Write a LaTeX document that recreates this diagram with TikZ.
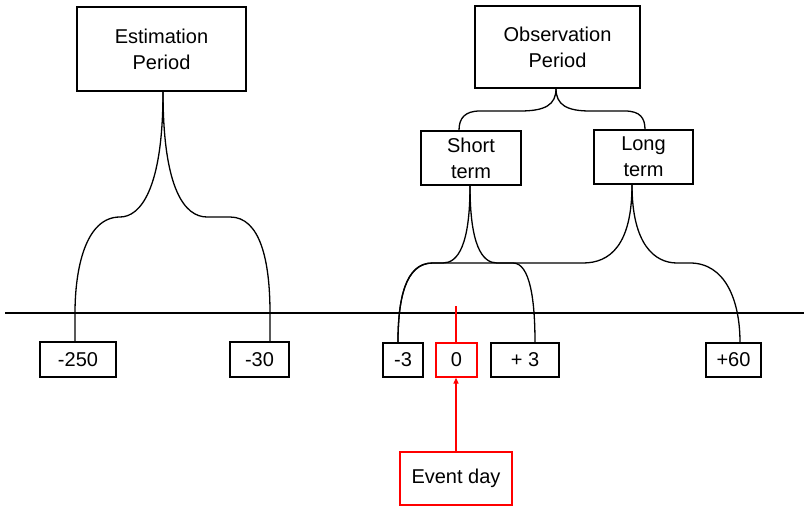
\documentclass[tikz,border=0pt]{standalone}
\usepackage{fontspec}
\setmainfont{Liberation Sans}
\usetikzlibrary{arrows.meta}
\begin{document}
\begin{tikzpicture}[x=1pt,y=-1pt,
  box/.style={draw=black,line width=1.3pt,align=center,inner sep=0pt,font=\fontsize{20}{26}\selectfont},
  redbox/.style={box,draw=red},
  link/.style={draw=black,line width=1.3pt},
  redlink/.style={draw=red,line width=1.3pt}]
\useasboundingbox (0,0) rectangle (804,508);
\draw[line width=1.3pt] (5,313) -- (804,313);
\node[box,minimum width=169pt,minimum height=84pt] (est) at (161.5,49) {Estimation\\Period};
\node[box,minimum width=165pt,minimum height=82pt] (obs) at (557.5,47) {Observation\\Period};
\node[box,minimum width=100pt,minimum height=54pt] (short) at (471,158) {Short\\term};
\node[box,minimum width=99pt,minimum height=54pt] (long) at (643.5,157) {Long\\term};
\node[box,minimum width=76pt,minimum height=35pt] (m250) at (78,359.5) {-250};
\node[box,minimum width=59pt,minimum height=35pt] (m30) at (259.5,359.5) {-30};
\node[box,minimum width=40pt,minimum height=34pt] (m3) at (403,360) {-3};
\node[redbox,minimum width=41pt,minimum height=34pt] (zero) at (456.5,360) {0};
\node[box,minimum width=68pt,minimum height=34pt] (p3) at (525,360) {+ 3};
\node[box,minimum width=55pt,minimum height=34pt] (p60) at (733.5,360) {+60};
\node[redbox,minimum width=112pt,minimum height=53pt] (event) at (456,478.5) {Event day};
\coordinate (tick) at (456,306);
% estimation
\path[link] ([xshift=1.5pt]est.south) .. controls (163,190) and (140,217) .. (120,217)
  .. controls (85,217) and (75,270) .. (75,313) -- ([xshift=-3pt]m250.north);
\path[link] ([xshift=1.5pt]est.south) .. controls (163,190) and (185,217) .. (207,217) -- (230,217)
  .. controls (260,217) and (270,260) .. (270,313) -- ([xshift=10.5pt]m30.north);
% observation
\path[link] ([xshift=-1.5pt]obs.south) .. controls (556,105) and (545,111) .. (520,111) -- (480,111)
  .. controls (465,111) and (459,118) .. ([xshift=-12pt]short.north);
\path[link] ([xshift=-1.5pt]obs.south) .. controls (556,105) and (567,111) .. (590,111) -- (625,111)
  .. controls (640,111) and (645,118) .. ([xshift=1.5pt]long.north);
% short term
\path[link] ([xshift=-1pt]short.south) .. controls (470,245) and (458,263) .. (443,263) -- (432,263)
  .. controls (405,263) and (398,300) .. ([xshift=-5pt]m3.north);
\path[link] ([xshift=-1pt]short.south) .. controls (470,245) and (482,263) .. (497,263) -- (513,263)
  .. controls (530,263) and (535,300) .. ([xshift=10pt]p3.north);
% long term
\path[link] ([xshift=-11.5pt]long.south) .. controls (632,245) and (610,263) .. (583,263) -- (433,263)
  .. controls (405,263) and (398,300) .. ([xshift=-5pt]m3.north);
\path[link] ([xshift=-11.5pt]long.south) .. controls (632,245) and (655,263) .. (677,263) -- (690,263)
  .. controls (725,263) and (740,300) .. ([xshift=6.5pt]p60.north);
% red
\path[redlink] (tick) -- (tick |- zero.north);
\path[redlink,-{Triangle[length=6pt,width=5pt]}] (event.north) -- (event.north |- zero.south);
\end{tikzpicture}
\end{document}
